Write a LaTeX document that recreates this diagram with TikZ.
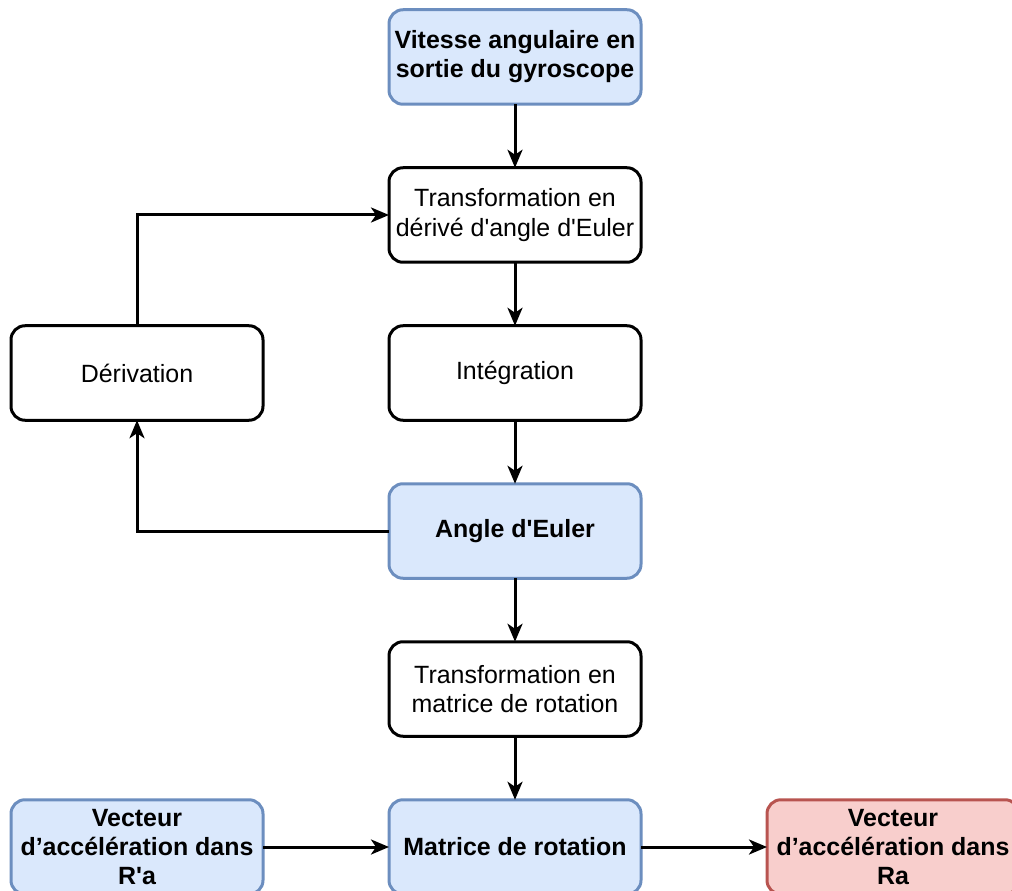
\documentclass[tikz,border=0pt]{standalone}
\usepackage{fontspec}
\setmainfont{Liberation Sans}
\usetikzlibrary{positioning,arrows.meta}
\definecolor{gyrblue}{HTML}{DAE8FC}
\definecolor{gyrbluedraw}{HTML}{6C8EBF}
\definecolor{gyrred}{HTML}{F8CECC}
\definecolor{gyrreddraw}{HTML}{B85450}

\begin{document}
\begin{tikzpicture}[
      node distance=1.27cm and 2.52cm,
      box/.style={rounded corners=0.28cm, draw=black, line width=0.06cm, align=center,
        minimum width=5.04cm, minimum height=1.89cm, inner sep=0pt, outer sep=0pt, font=\fontsize{14.2}{16.6}\selectfont},
      bluebox/.style={box, fill=gyrblue, draw=gyrbluedraw, font=\fontsize{14.2}{16.6}\selectfont\bfseries},
      redbox/.style={box, fill=gyrred, draw=gyrreddraw, font=\fontsize{14.2}{16.6}\selectfont\bfseries},
      arrow/.style={-{Stealth[length=0.36cm,width=0.3cm,inset=0.1cm]}, line width=0.06cm, draw=black}
    ]
      \useasboundingbox (0,0) rectangle (20.24,-17.82);
      \node[bluebox] (gyro) at (10.3,-1.14) {Vitesse angulaire en\\ sortie du gyroscope};
      \node[box, below=of gyro] (euldot) {Transformation en\\ d\'eriv\'e d\textquotesingle angle d\textquotesingle Euler};
      \node[box, below=of euldot] (integ) {Int\'egration};
      \node[box, left=of integ] (deriv) {D\'erivation};
      \node[bluebox, below=of integ] (euler) {Angle d\textquotesingle Euler};
      \node[box, below=of euler] (rotmat) {Transformation en\\ matrice de rotation};
      \node[bluebox, below=of rotmat] (mat) {Matrice de rotation};
      \node[bluebox, left=of mat] (vecin) {Vecteur\\ d’accélération dans\\ R\textquotesingle a};
      \node[redbox, right=of mat] (vecout) {Vecteur\\ d’accélération dans\\ Ra};
      \draw[arrow] (gyro) -- (euldot);
      \draw[arrow] (euldot) -- (integ);
      \draw[arrow] (integ) -- (euler);
      \draw[arrow] (euler) -- (rotmat);
      \draw[arrow] (rotmat) -- (mat);
      \draw[arrow] (euler.west) -| (deriv.south);
      \draw[arrow] (deriv.north) |- (euldot.west);
      \draw[arrow] (vecin) -- (mat);
      \draw[arrow] (mat) -- (vecout);
    \end{tikzpicture}
\end{document}
